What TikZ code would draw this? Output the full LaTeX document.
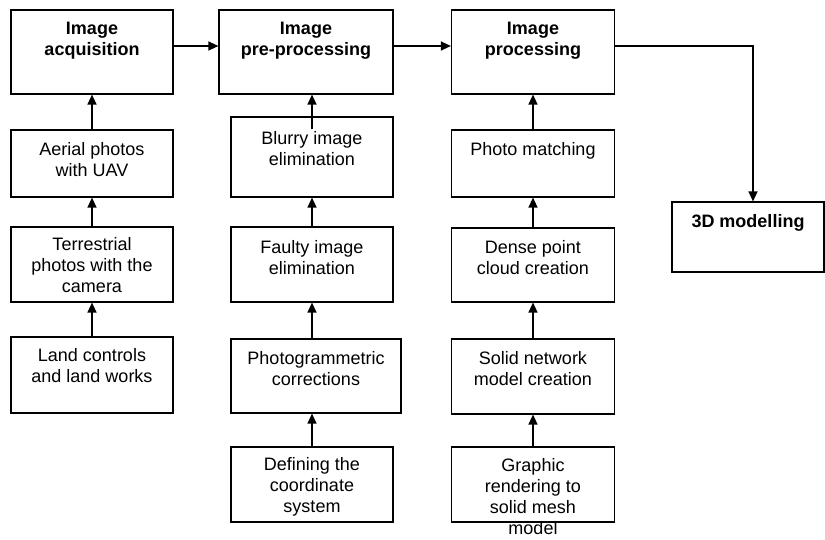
\documentclass[tikz,border=0pt]{standalone}
\usepackage{fontspec}
\setmainfont{Liberation Sans}
\usetikzlibrary{arrows.meta}

\begin{document}
\begin{tikzpicture}[x=1pt, y=-1pt,
    box/.style = {draw, line width=1.2pt, inner sep=0pt, minimum width=162pt},
    caption/.style = {anchor=north, align=center, inner sep=0pt, yshift=-12.5pt, font=\fontsize{18}{21}\selectfont},
    stage/.style = {caption, font=\fontsize{18}{21}\selectfont\bfseries},
    arrow/.style = {draw, line width=1.3pt, -{Triangle[length=10pt,width=9pt]}}]
    \useasboundingbox (0,0) rectangle (825,539);
    % main stages
    \node [box, minimum height=84pt, label={[stage]north:Image\\acquisition}] (acq) at (92,52) {};
    \node [box, minimum width=174pt, minimum height=84pt, label={[stage]north:Image\\pre-processing}] (pre) at (306,52) {};
    \node [box, minimum width=163pt, minimum height=84pt, label={[stage]north:Image\\processing}] (proc) at (533,52) {};
    \node [box, minimum width=152pt, minimum height=70pt, label={[stage]north:3D modelling}] (model) at (748,237) {};
    % acquisition
    \node [box, minimum height=67pt, label={[caption]north:Aerial photos\\with UAV}] (aerial) at (92,163.5) {};
    \node [box, minimum height=75pt, label={[caption, yshift=2pt]north:Terrestrial\\photos with the\\camera}] (terr) at (92,264.5) {};
    \node [box, minimum height=76pt, label={[caption, yshift=1pt]north:Land controls\\and land works}] (land) at (92,375) {};
    % pre-processing
    \node [box, minimum height=80pt, label={[caption, yshift=-2pt]north:Blurry image\\elimination}] (blurry) at (312,157) {};
    \node [box, minimum height=75pt, label={[caption, yshift=-1pt]north:Faulty image\\elimination}] (faulty) at (312,264.5) {};
    \node [box, minimum width=170pt, minimum height=74pt, label={[caption]north:Photogrammetric\\corrections}] (photog) at (316,376) {};
    \node [box, minimum height=75pt, label={[caption, yshift=2pt]north:Defining the\\coordinate\\system}] (coord) at (312,484.5) {};
    % processing
    \node [box, minimum width=163pt, minimum height=67pt, label={[caption]north:Photo matching}] (match) at (533,163.5) {};
    \node [box, minimum width=163pt, minimum height=74pt, label={[caption]north:Dense point\\cloud creation}] (dense) at (533,265) {};
    \node [box, minimum width=163pt, minimum height=75pt, label={[caption]north:Solid network\\model creation}] (solid) at (533,376.5) {};
    \node [box, minimum width=163pt, minimum height=75pt, label={[caption, yshift=1pt]north:Graphic\\rendering to\\solid mesh\\model}] (mesh) at (533,484.5) {};
    % flow between stages
    \draw [arrow] ([yshift=6pt]acq.east) -- ([yshift=6pt]acq.east -| pre.west);
    \draw [arrow] ([yshift=6pt]pre.east) -- ([yshift=6pt]pre.east -| proc.west);
    \draw [arrow] ([yshift=6pt]proc.east) -| ([xshift=5pt]model.north);
    % columns
    \draw [arrow] (land.north) -- (terr.south);
    \draw [arrow] (terr.north) -- (aerial.south);
    \draw [arrow] (aerial.north) -- (acq.south);
    \draw [arrow] (coord.north) -- (coord.north |- photog.south);
    \draw [arrow] (faulty.south |- photog.north) -- (faulty.south);
    \draw [arrow] (faulty.north) -- (blurry.south);
    \draw [arrow] ([yshift=-13pt]blurry.north) -- (blurry.north |- pre.south);
    \draw [arrow] (mesh.north) -- (solid.south);
    \draw [arrow] (solid.north) -- (dense.south);
    \draw [arrow] (dense.north) -- (match.south);
    \draw [arrow] (match.north) -- (proc.south);
\end{tikzpicture}
\end{document}
